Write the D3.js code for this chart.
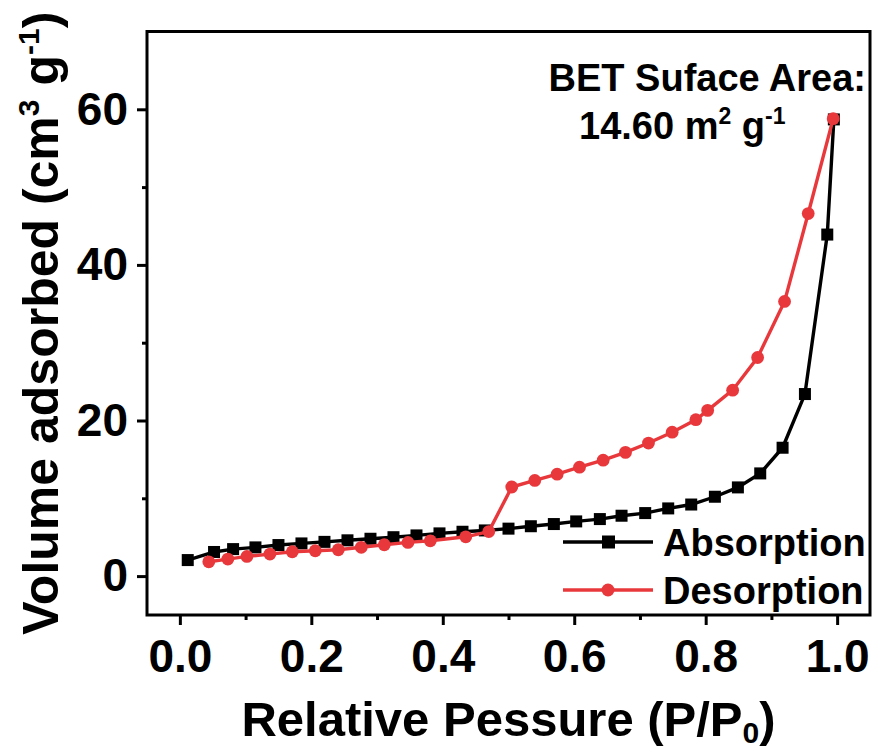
<!DOCTYPE html>
<html>
<head>
<meta charset="utf-8">
<script src="https://cdn.jsdelivr.net/npm/d3@7"></script>
<style>
  html, body { margin: 0; padding: 0; background: #fff; }
  svg text { font-family: "Liberation Sans", Arial, sans-serif; font-weight: bold; fill: #000; }
</style>
</head>
<body>
<svg id="chart" width="875" height="751"></svg>
<script>
// Adsorption branch (P/P0, volume in cm3/g)
const adsP = [0.012, 0.052, 0.081, 0.115, 0.150, 0.185, 0.220, 0.255, 0.290, 0.325,
              0.360, 0.395, 0.430, 0.464, 0.500, 0.534, 0.569, 0.603, 0.639, 0.672,
              0.708, 0.743, 0.778, 0.814, 0.849, 0.883, 0.917, 0.951, 0.985, 0.995];
const adsV = [2.06, 3.10, 3.47, 3.69, 3.99, 4.20, 4.40, 4.60, 4.80, 5.00,
              5.23, 5.49, 5.70, 5.87, 6.10, 6.41, 6.69, 7.03, 7.33, 7.76,
              8.10, 8.70, 9.20, 10.2, 11.4, 13.2, 16.5, 23.4, 43.9, 58.7];

// Desorption branch, measured from high to low pressure
const desP = [0.994, 0.956, 0.920, 0.879, 0.841, 0.803, 0.785, 0.749, 0.713, 0.678,
              0.644, 0.608, 0.574, 0.540, 0.505, 0.470, 0.435, 0.381, 0.347, 0.311,
              0.276, 0.241, 0.206, 0.171, 0.137, 0.102, 0.073, 0.044];
const desV = [58.8, 46.6, 35.3, 28.1, 23.9, 21.3, 20.1, 18.5, 17.1, 15.9,
              14.9, 14.0, 13.1, 12.3, 11.45, 5.72, 5.05, 4.54, 4.33, 4.03,
              3.70, 3.39, 3.26, 3.13, 2.83, 2.53, 2.19, 1.84];

const xTicks = [0, 0.2, 0.4, 0.6, 0.8, 1.0];
const xMinor = [0.1, 0.3, 0.5, 0.7, 0.9];
const yTicks = [0, 20, 40, 60];
const yMinor = [10, 30, 50];

const seriesNames = ["Absorption", "Desorption"];
const seriesColors = ["#000000", "#e8383c"];

const svg = d3.select("#chart");
const plot = { left: 147, right: 870, top: 31.5, bottom: 615 };

const x = d3.scaleLinear().domain([-0.05, 1.05]).range([plot.left, plot.right]);
const y = d3.scaleLinear().domain([-5, 70]).range([plot.bottom, plot.top]);

// Axes: major ticks with labels, minor ticks without
const xAxis = d3.axisBottom(x).tickValues(xTicks).tickFormat(d3.format(".1f")).tickSize(10).tickPadding(14);
const xAxisMinor = d3.axisBottom(x).tickValues(xMinor).tickFormat("").tickSize(5);
const yAxis = d3.axisLeft(y).tickValues(yTicks).tickFormat(d3.format("d")).tickSize(10).tickPadding(9);
const yAxisMinor = d3.axisLeft(y).tickValues(yMinor).tickFormat("").tickSize(5);

function styleAxis(g) {
  g.select(".domain").remove();
  g.selectAll(".tick line").attr("stroke", "#000").attr("stroke-width", 3);
  g.selectAll(".tick text").attr("font-size", 46)
    .style("font-family", "'Liberation Sans', Arial, sans-serif").style("font-weight", "bold");
}

svg.append("g").attr("transform", `translate(0,${plot.bottom})`).call(xAxis).call(styleAxis)
  .selectAll(".tick text").attr("dy", "0.71em");
svg.append("g").attr("transform", `translate(0,${plot.bottom})`).call(xAxisMinor).call(styleAxis);
svg.append("g").attr("transform", `translate(${plot.left},0)`).call(yAxis).call(styleAxis);
svg.append("g").attr("transform", `translate(${plot.left},0)`).call(yAxisMinor).call(styleAxis);

// Isotherm curves
const adsData = adsP.map((p, i) => ({ p, v: adsV[i] }));
const desData = desP.map((p, i) => ({ p, v: desV[i] }));
const line = d3.line().x(d => x(d.p)).y(d => y(d.v));

const plotG = svg.append("g");
plotG.append("path").datum(adsData).attr("d", line)
  .attr("fill", "none").attr("stroke", seriesColors[0]).attr("stroke-width", 3.4);
plotG.selectAll("rect.ads").data(adsData).join("rect").attr("class", "ads")
  .attr("x", d => x(d.p) - 6).attr("y", d => y(d.v) - 6)
  .attr("width", 12).attr("height", 12).attr("fill", seriesColors[0]);

plotG.append("path").datum(desData).attr("d", line)
  .attr("fill", "none").attr("stroke", seriesColors[1]).attr("stroke-width", 3.4);
plotG.selectAll("circle.des").data(desData).join("circle").attr("class", "des")
  .attr("cx", d => x(d.p)).attr("cy", d => y(d.v)).attr("r", 6.4)
  .attr("fill", seriesColors[1]);

// Frame
svg.append("rect")
  .attr("x", plot.left).attr("y", plot.top)
  .attr("width", plot.right - plot.left).attr("height", plot.bottom - plot.top)
  .attr("fill", "none").attr("stroke", "#000").attr("stroke-width", 3);

// Legend
const legend = svg.append("g");
seriesNames.forEach((name, i) => {
  const ly = 542 + i * 48;
  legend.append("line").attr("x1", 563).attr("x2", 653).attr("y1", ly).attr("y2", ly)
    .attr("stroke", seriesColors[i]).attr("stroke-width", 3.4);
  if (i === 0) {
    legend.append("rect").attr("x", 602).attr("y", ly - 6.5).attr("width", 13).attr("height", 13)
      .attr("fill", seriesColors[i]);
  } else {
    legend.append("circle").attr("cx", 608).attr("cy", ly).attr("r", 6.5).attr("fill", seriesColors[i]);
  }
  legend.append("text").attr("x", 663).attr("y", ly + 14).attr("font-size", 38).text(name);
});

// BET annotation
svg.append("text").attr("x", 866).attr("y", 91).attr("text-anchor", "end")
  .attr("font-size", 38).text("BET Suface Area:");
const bet = svg.append("text").attr("x", 579).attr("y", 139).attr("font-size", 38);
bet.append("tspan").text("14.60 m");
bet.append("tspan").attr("font-size", 23).attr("dy", -15).text("2");
bet.append("tspan").attr("dy", 15).text(" g");
bet.append("tspan").attr("font-size", 23).attr("dy", -15).text("-1");

// Axis titles
const xt = svg.append("text").attr("x", (plot.left + plot.right) / 2).attr("y", 736)
  .attr("text-anchor", "middle").attr("font-size", 49);
xt.append("tspan").text("Relative Pessure (P/P");
xt.append("tspan").attr("font-size", 30).attr("dy", 7).text("0");
xt.append("tspan").attr("dy", -7).text(")");

const yt = svg.append("text")
  .attr("transform", `translate(58,${(plot.top + plot.bottom) / 2}) rotate(-90)`)
  .attr("text-anchor", "middle").attr("font-size", 50);
yt.append("tspan").text("Volume adsorbed (cm");
yt.append("tspan").attr("font-size", 30).attr("dy", -19).text("3");
yt.append("tspan").attr("dy", 19).text(" g");
yt.append("tspan").attr("font-size", 30).attr("dy", -19).text("-1");
yt.append("tspan").attr("dy", 19).text(")");
</script>
</body>
</html>
